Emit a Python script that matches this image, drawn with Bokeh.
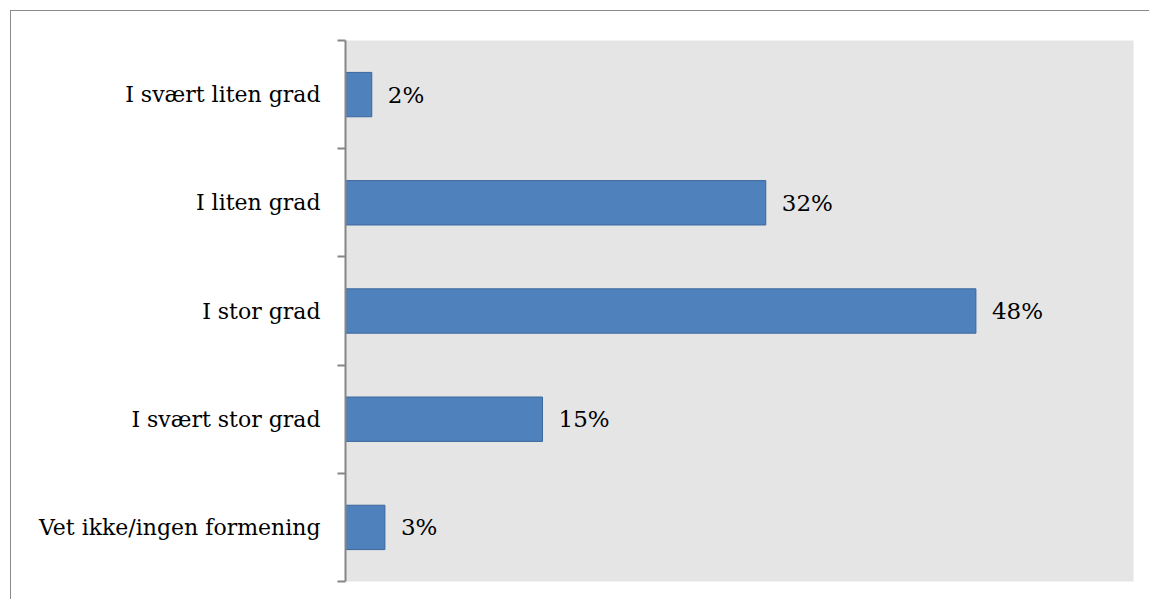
from bokeh.plotting import figure
from bokeh.models import ColumnDataSource, FixedTicker, Range1d
from bokeh.core.properties import value
from bokeh.embed import file_html
from bokeh.resources import INLINE

categories = ["I svært liten grad", "I liten grad", "I stor grad", "I svært stor grad", "Vet ikke/ingen formening"]
values = [2, 32, 48, 15, 3]
labels = ["2%", "32%", "48%", "15%", "3%"]

n = len(categories)
ypos = [n - i - 0.5 for i in range(n)]

src = ColumnDataSource(dict(y=ypos, v=values, lab=labels, cat=categories))

FONT = "DejaVu Serif"

p = figure(width=1139, height=589, output_backend="svg", toolbar_location=None,
           x_range=Range1d(0, 60), y_range=Range1d(0, n),
           min_border_left=334, min_border_top=29, min_border_right=17, min_border_bottom=19)
p.margin = (10, 0, 0, 10)
p.styles = {"border-top": "1px solid #8a8a8a", "border-left": "1px solid #8a8a8a"}

p.background_fill_color = "#e5e5e5"
p.border_fill_color = "white"
p.outline_line_color = None
p.grid.visible = False
p.xaxis.visible = False

p.hbar(y="y", right="v", left=0, height=0.41, source=src,
       fill_color="#4f81bd", line_color="#3a679e", line_width=1)

p.text(x="v", y="y", text="lab", source=src, x_offset=16,
       text_baseline="middle", text_align="left",
       text_font=value(FONT), text_font_size="23px", text_color="black")

ya = p.yaxis[0]
ya.ticker = FixedTicker(ticks=ypos, minor_ticks=list(range(n + 1)))
ya.major_label_overrides = {float(y): c for y, c in zip(ypos, categories)}
ya.major_tick_line_color = None
ya.major_tick_out = 0
ya.major_tick_in = 0
ya.minor_tick_out = 8
ya.minor_tick_in = 0
ya.minor_tick_line_color = "#868686"
ya.minor_tick_line_width = 2
ya.axis_line_color = "#868686"
ya.axis_line_width = 2
ya.major_label_standoff = 17
ya.major_label_text_font = FONT
ya.major_label_text_font_size = "22px"
ya.major_label_text_color = "black"

open("out.html", "w").write(file_html(p, INLINE))
